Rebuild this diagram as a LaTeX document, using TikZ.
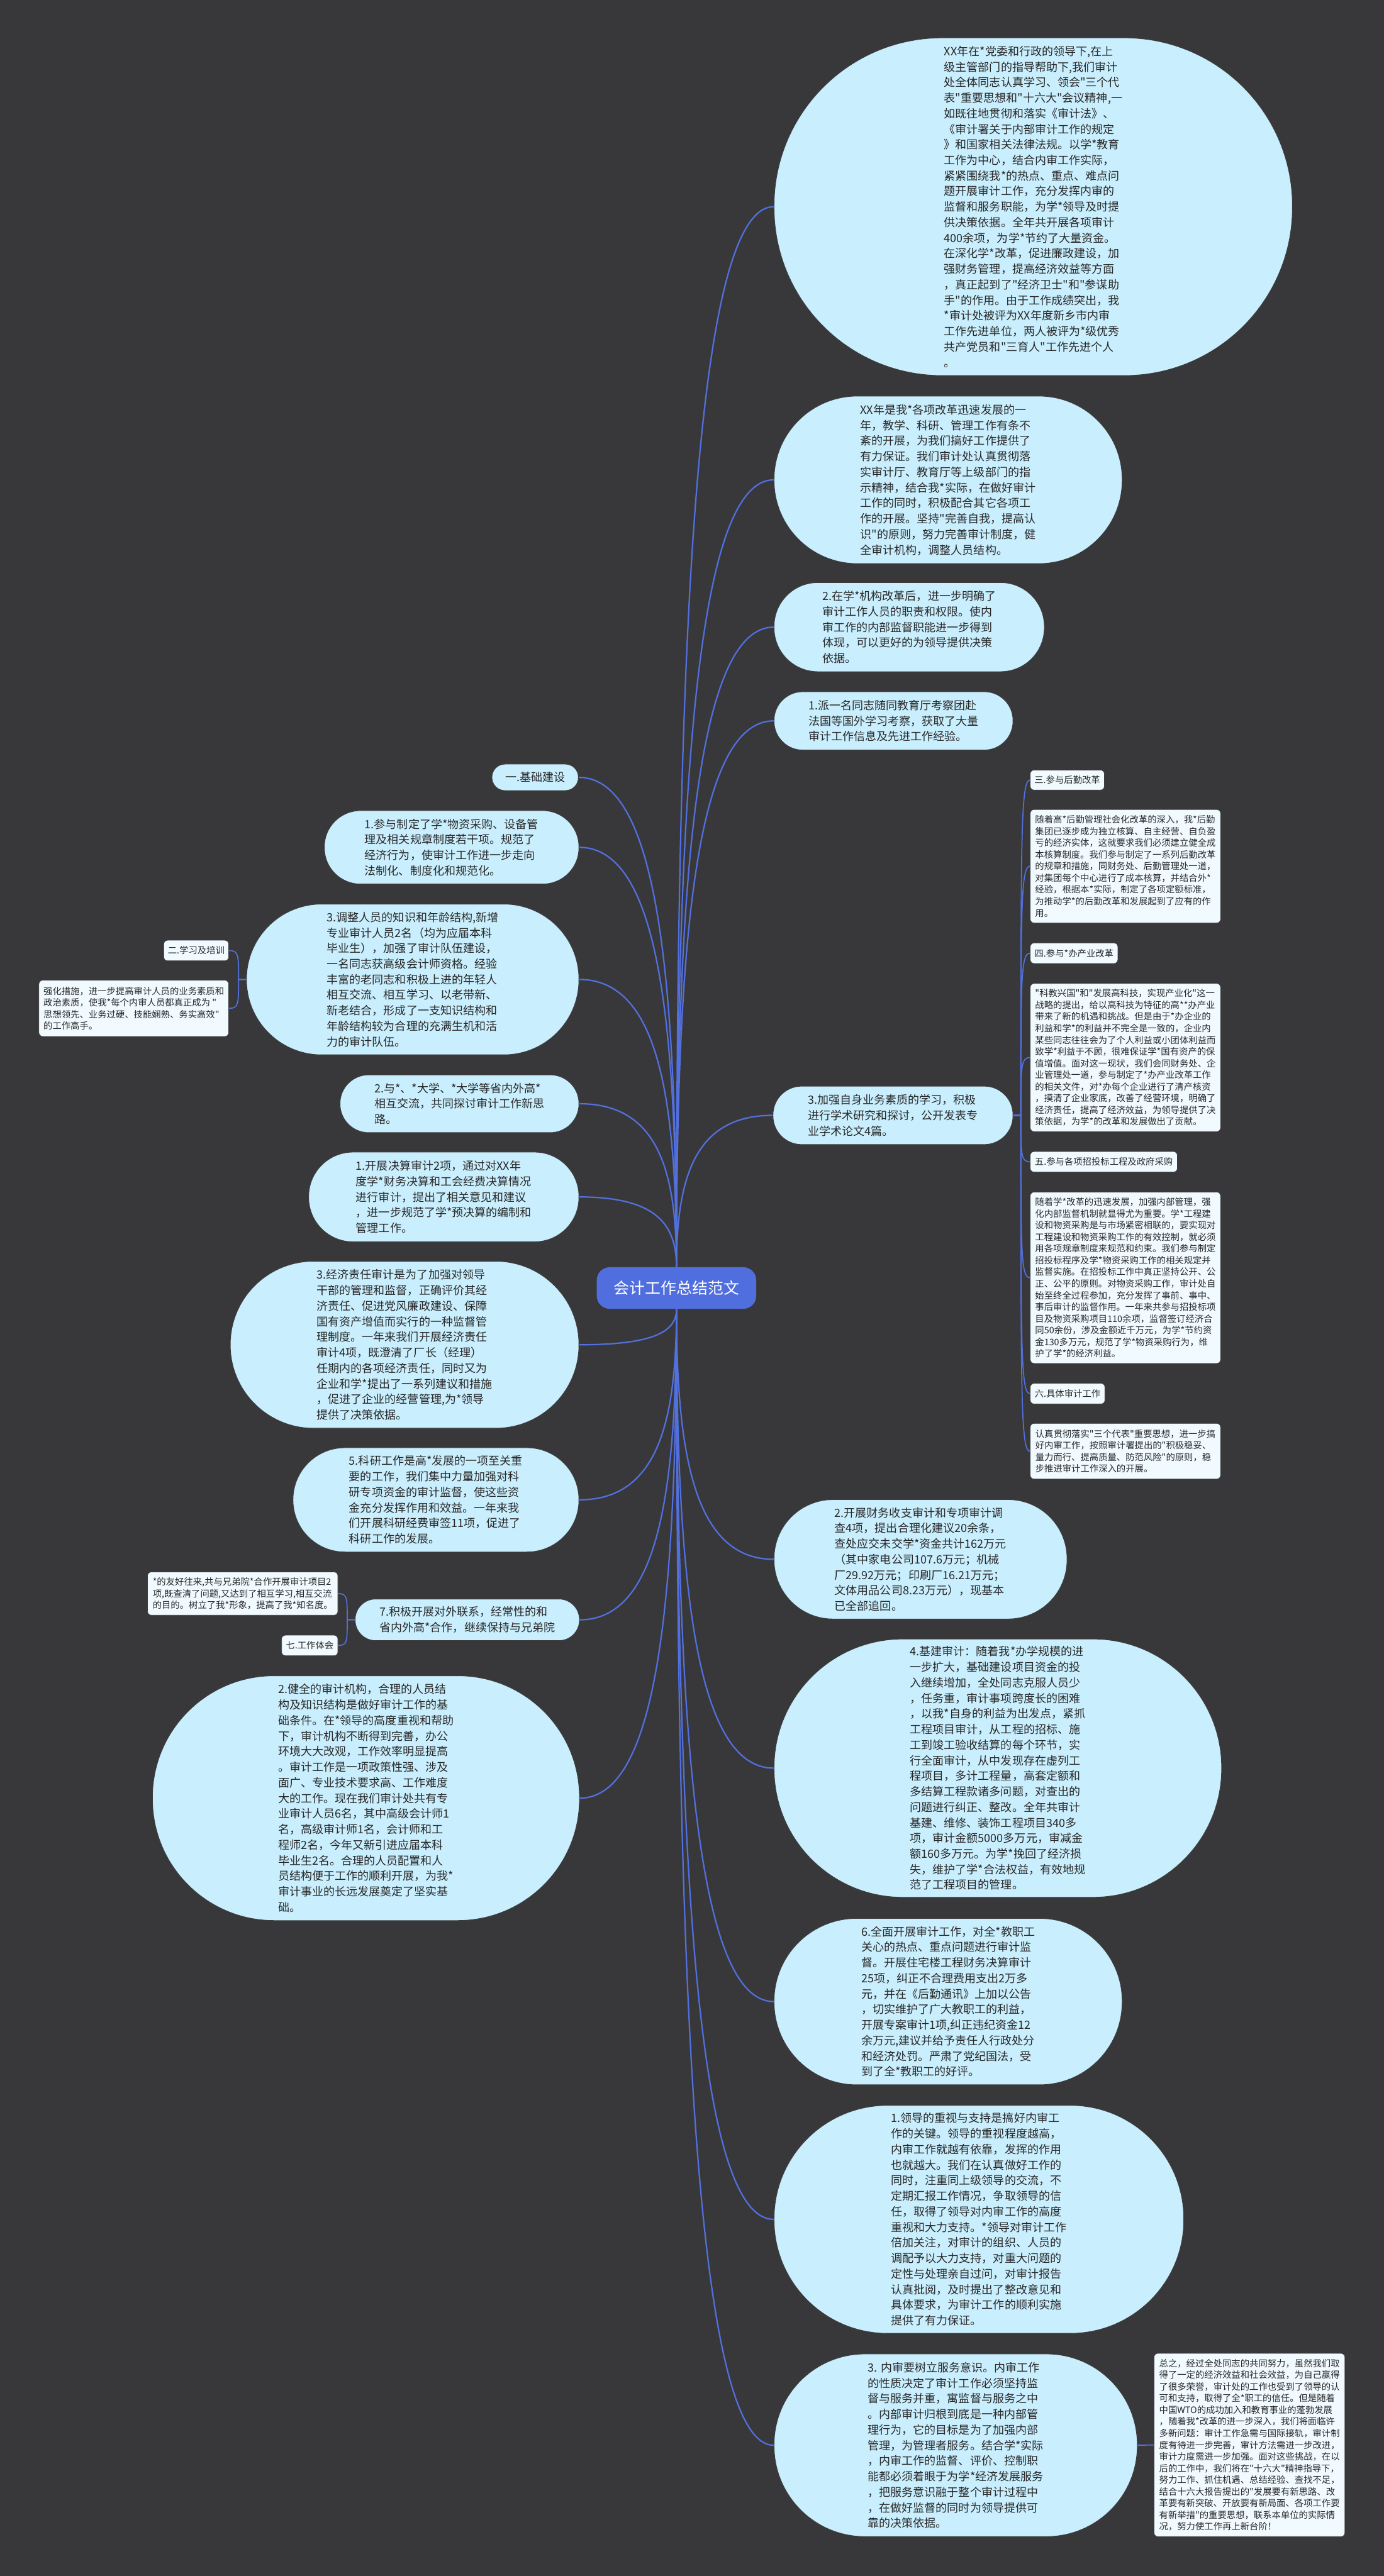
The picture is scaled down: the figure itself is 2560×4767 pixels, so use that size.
\documentclass[tikz,border=0pt]{standalone}
\usepackage{fontspec}
\newfontfamily\cjk{Noto Sans CJK SC}
\usetikzlibrary{calc}
\definecolor{bgc}{RGB}{56,56,58}
\definecolor{bubfill}{RGB}{201,238,253}
\definecolor{bubline}{RGB}{60,60,62}
\definecolor{boxfill}{RGB}{240,250,255}
\definecolor{centerc}{RGB}{80,110,221}
\definecolor{linkc}{RGB}{82,112,222}
\definecolor{txtc}{RGB}{40,40,40}
\pgfdeclarelayer{back}
\pgfdeclarelayer{links}
\pgfsetlayers{back,links,main}
\tikzset{
  bub/.style={draw=bubline, line width=1.2pt, fill=bubfill, text=txtc, font=\cjk\fontsize{21}{28.8}\selectfont, align=left, inner sep=0pt},
  sbox/.style={draw=bubline, line width=0.8pt, fill=boxfill, rounded corners=7pt, text=txtc, font=\cjk\fontsize{16.7}{21.6}\selectfont, align=left, inner sep=0pt},
  link/.style={draw=linkc, line width=2.6pt},
  slink/.style={draw=linkc, line width=2pt},
  conn/.style={to path={let \p1=(\tikztostart), \p2=(\tikztotarget) in .. controls (\x1,{\y1+0.6*(\y2-\y1)}) and ({\x1+0.2*(\x2-\x1)},\y2) .. (\tikztotarget)}},
  hconn/.style={to path={let \p1=(\tikztostart), \p2=(\tikztotarget) in .. controls (\x1,{\y1+0.85*(\y2-\y1)}) and (\x1,\y2) .. (\tikztotarget)}}
}
\begin{document}
\begin{tikzpicture}[x=1pt,y=-1pt]
\useasboundingbox (0,0) rectangle (2560,4767);
\begin{pgfonlayer}{back}
\fill[bgc] (0,0) rectangle (2560,4767);
\end{pgfonlayer}

% center
\node[fill=centerc, text=white, rounded corners=24pt, minimum width=295pt, minimum height=77pt, inner sep=0pt, font=\cjk\fontsize{29}{34}\selectfont] (c) at (1251.5,2383.5) {会计工作总结范文};

% right side
\node[bub, minimum width=959pt, minimum height=625pt, rounded corners=311pt] (r1) at (1911.5,382.5) {XX年在*党委和行政的领导下,在上\\级主管部门的指导帮助下,我们审计\\处全体同志认真学习、领会"三个代\\表"重要思想和"十六大"会议精神,一\\如既往地贯彻和落实《审计法》、\\《审计署关于内部审计工作的规定\\》和国家相关法律法规。以学*教育\\工作为中心，结合内审工作实际，\\紧紧围绕我*的热点、重点、难点问\\题开展审计工作，充分发挥内审的\\监督和服务职能，为学*领导及时提\\供决策依据。全年共开展各项审计\\400余项，为学*节约了大量资金。\\在深化学*改革，促进廉政建设，加\\强财务管理，提高经济效益等方面\\，真正起到了"经济卫士"和"参谋助\\手"的作用。由于工作成绩突出，我\\*审计处被评为XX年度新乡市内审\\工作先进单位，两人被评为*级优秀\\共产党员和"三育人"工作先进个人\\。};

\node[bub, minimum width=644pt, minimum height=310pt, rounded corners=154pt] (r2) at (1754,888) {XX年是我*各项改革迅速发展的一\\年，教学、科研、管理工作有条不\\紊的开展，为我们搞好工作提供了\\有力保证。我们审计处认真贯彻落\\实审计厅、教育厅等上级部门的指\\示精神，结合我*实际，在做好审计\\工作的同时，积极配合其它各项工\\作的开展。坚持"完善自我，提高认\\识"的原则，努力完善审计制度，健\\全审计机构，调整人员结构。};

\node[bub, minimum width=500pt, minimum height=165pt, rounded corners=81pt] (r3) at (1682,1160.5) {2.在学*机构改革后，进一步明确了\\审计工作人员的职责和权限。使内\\审工作的内部监督职能进一步得到\\体现，可以更好的为领导提供决策\\依据。};

\node[bub, minimum width=442pt, minimum height=108pt, rounded corners=53pt] (r4) at (1653,1334) {1.派一名同志随同教育厅考察团赴\\法国等国外学习考察，获取了大量\\审计工作信息及先进工作经验。};

\node[bub, minimum width=444pt, minimum height=108pt, rounded corners=53pt] (r5) at (1652,2064) {3.加强自身业务素质的学习，积极\\进行学术研究和探讨，公开发表专\\业学术论文4篇。};

\node[bub, minimum width=542pt, minimum height=221pt, rounded corners=109pt] (r6) at (1703,2885.5) {2.开展财务收支审计和专项审计调\\查4项，提出合理化建议20余条，\\查处应交未交学*资金共计162万元\\（其中家电公司107.6万元；机械\\厂29.92万元；印刷厂16.21万元；\\文体用品公司8.23万元），现基本\\已全部追回。};

\node[bub, minimum width=828pt, minimum height=478pt, rounded corners=238pt] (r7) at (1846,3272) {4.基建审计：随着我*办学规模的进\\一步扩大，基础建设项目资金的投\\入继续增加，全处同志克服人员少\\，任务重，审计事项跨度长的困难\\，以我*自身的利益为出发点，紧抓\\工程项目审计，从工程的招标、施\\工到竣工验收结算的每个环节，实\\行全面审计，从中发现存在虚列工\\程项目，多计工程量，高套定额和\\多结算工程款诸多问题，对查出的\\问题进行纠正、整改。全年共审计\\基建、维修、装饰工程项目340多\\项，审计金额5000多万元，审减金\\额160多万元。为学*挽回了经济损\\失，维护了学*合法权益，有效地规\\范了工程项目的管理。};

\node[bub, minimum width=644pt, minimum height=308pt, rounded corners=153pt] (r8) at (1754,3704) {6.全面开展审计工作，对全*教职工\\关心的热点、重点问题进行审计监\\督。开展住宅楼工程财务决算审计\\25项，纠正不合理费用支出2万多\\元，并在《后勤通讯》上加以公告\\，切实维护了广大教职工的利益，\\开展专案审计1项,纠正违纪资金12\\余万元,建议并给予责任人行政处分\\和经济处罚。严肃了党纪国法，受\\到了全*教职工的好评。};

\node[bub, minimum width=758pt, minimum height=422pt, rounded corners=210pt] (r9) at (1811,4107) {1.领导的重视与支持是搞好内审工\\作的关键。领导的重视程度越高，\\内审工作就越有依靠，发挥的作用\\也就越大。我们在认真做好工作的\\同时，注重同上级领导的交流，不\\定期汇报工作情况，争取领导的信\\任，取得了领导对内审工作的高度\\重视和大力支持。*领导对审计工作\\倍加关注，对审计的组织、人员的\\调配予以大力支持，对重大问题的\\定性与处理亲自过问，对审计报告\\认真批阅，及时提出了整改意见和\\具体要求，为审计工作的顺利实施\\提供了有力保证。};

\node[bub, minimum width=672pt, minimum height=338pt, rounded corners=168pt] (r10) at (1768,4525) {3. 内审要树立服务意识。内审工作\\的性质决定了审计工作必须坚持监\\督与服务并重，寓监督与服务之中\\。内部审计归根到底是一种内部管\\理行为，它的目标是为了加强内部\\管理，为管理者服务。结合学*实际\\，内审工作的监督、评价、控制职\\能都必须着眼于为学*经济发展服务\\，把服务意识融于整个审计过程中\\，在做好监督的同时为领导提供可\\靠的决策依据。};

\node[sbox, minimum width=353pt, minimum height=339pt] (z) at (2311.5,4524.5) {总之，经过全处同志的共同努力，虽然我们取\\得了一定的经济效益和社会效益，为自己赢得\\了很多荣誉，审计处的工作也受到了领导的认\\可和支持，取得了全*职工的信任。但是随着\\中国WTO的成功加入和教育事业的蓬勃发展\\，随着我*改革的进一步深入，我们将面临许\\多新问题：审计工作急需与国际接轨，审计制\\度有待进一步完善，审计方法需进一步改进，\\审计力度需进一步加强。面对这些挑战，在以\\后的工作中，我们将在"十六大"精神指导下，\\努力工作、抓住机遇、总结经验、查找不足，\\结合十六大报告提出的"发展要有新思路、改\\革要有新突破、开放要有新局面、各项工作要\\有新举措"的重要思想，联系本单位的实际情\\况，努力使工作再上新台阶！};

% right column boxes (children of r5)
\node[sbox, minimum width=137pt, minimum height=37pt] (b1) at (1974.5,1443.5) {三.参与后勤改革};
\node[sbox, minimum width=352pt, minimum height=210pt] (b2) at (2082,1603) {随着高*后勤管理社会化改革的深入，我*后勤\\集团已逐步成为独立核算、自主经营、自负盈\\亏的经济实体，这就要求我们必须建立健全成\\本核算制度。我们参与制定了一系列后勤改革\\的规章和措施，同财务处、后勤管理处一道，\\对集团每个中心进行了成本核算，并结合外*\\经验，根据本*实际，制定了各项定额标准，\\为推动学*的后勤改革和发展起到了应有的作\\用。};
\node[sbox, minimum width=162pt, minimum height=38pt] (b3) at (1987,1764) {四.参与*办产业改革};
\node[sbox, minimum width=352pt, minimum height=274pt] (b4) at (2082,1957) {"科教兴国"和"发展高科技，实现产业化"这一\\战略的提出，给以高科技为特征的高**办产业\\带来了新的机遇和挑战。但是由于*办企业的\\利益和学*的利益并不完全是一致的，企业内\\某些同志往往会为了个人利益或小团体利益而\\致学*利益于不顾，很难保证学*国有资产的保\\值增值。面对这一现状，我们会同财务处、企\\业管理处一道，参与制定了*办产业改革工作\\的相关文件，对*办每个企业进行了清产核资\\，摸清了企业家底，改善了经营环境，明确了\\经济责任，提高了经济效益，为领导提供了决\\策依据，为学*的改革和发展做出了贡献。};
\node[sbox, minimum width=272pt, minimum height=38pt] (b5) at (2042,2150) {五.参与各项招投标工程及政府采购};
\node[sbox, minimum width=352pt, minimum height=317pt] (b6) at (2082,2364.5) {随着学*改革的迅速发展，加强内部管理，强\\化内部监督机制就显得尤为重要。学*工程建\\设和物资采购是与市场紧密相联的，要实现对\\工程建设和物资采购工作的有效控制，就必须\\用各项规章制度来规范和约束。我们参与制定\\招投标程序及学*物资采购工作的相关规定并\\监督实施。在招投标工作中真正坚持公开、公\\正、公平的原则。对物资采购工作，审计处自\\始至终全过程参加，充分发挥了事前、事中、\\事后审计的监督作用。一年来共参与招投标项\\目及物资采购项目110余项，监督签订经济合\\同50余份，涉及金额近千万元，为学*节约资\\金130多万元，规范了学*物资采购行为，维\\护了学*的经济利益。};
\node[sbox, minimum width=138pt, minimum height=38pt] (b7) at (1975,2579) {六.具体审计工作};
\node[sbox, minimum width=352pt, minimum height=103pt] (b8) at (2082,2685.5) {认真贯彻落实"三个代表"重要思想，进一步搞\\好内审工作，按照审计署提出的"积极稳妥、\\量力而行、提高质量、防范风险"的原则，稳\\步推进审计工作深入的开展。};

% left side
\node[bub, minimum width=160pt, minimum height=49pt, rounded corners=24pt] (l0) at (990,1438.5) {一.基础建设};

\node[bub, minimum width=471pt, minimum height=136pt, rounded corners=67pt] (l1) at (835.5,1568) {1.参与制定了学*物资采购、设备管\\理及相关规章制度若干项。规范了\\经济行为，使审计工作进一步走向\\法制化、制度化和规范化。};

\node[bub, minimum width=615pt, minimum height=279pt, rounded corners=139pt] (l2) at (763.5,1812.5) {3.调整人员的知识和年龄结构,新增\\专业审计人员2名（均为应届本科\\毕业生），加强了审计队伍建设，\\一名同志获高级会计师资格。经验\\丰富的老同志和积极上进的年轻人\\相互交流、相互学习、以老带新、\\新老结合，形成了一支知识结构和\\年龄结构较为合理的充满生机和活\\力的审计队伍。};

\node[sbox, minimum width=120pt, minimum height=38pt] (s1) at (363,1759) {二.学习及培训};
\node[sbox, minimum width=351pt, minimum height=104pt] (s2) at (247.5,1866) {强化措施，进一步提高审计人员的业务素质和\\政治素质，使我*每个内审人员都真正成为 "\\思想领先、业务过硬、技能娴熟、务实高效"\\的工作高手。};

\node[bub, minimum width=442pt, minimum height=107pt, rounded corners=53pt] (l3) at (850,2042.5) {2.与*、*大学、*大学等省内外高*\\相互交流，共同探讨审计工作新思\\路。};

\node[bub, minimum width=500pt, minimum height=166pt, rounded corners=82pt] (l4) at (821,2215) {1.开展决算审计2项，通过对XX年\\度学*财务决算和工会经费决算情况\\进行审计，提出了相关意见和建议\\，进一步规范了学*预决算的编制和\\管理工作。};

\node[bub, minimum width=645pt, minimum height=309pt, rounded corners=154pt] (l5) at (748.5,2488.5) {3.经济责任审计是为了加强对领导\\干部的管理和监督，正确评价其经\\济责任、促进党风廉政建设、保障\\国有资产增值而实行的一种监督管\\理制度。一年来我们开展经济责任\\审计4项，既澄清了厂长（经理）\\任期内的各项经济责任，同时又为\\企业和学*提出了一系列建议和措施\\，促进了企业的经营管理,为*领导\\提供了决策依据。};

\node[bub, minimum width=529pt, minimum height=193pt, rounded corners=96pt] (l6) at (806.5,2775.5) {5.科研工作是高*发展的一项至关重\\要的工作，我们集中力量加强对科\\研专项资金的审计监督，使这些资\\金充分发挥作用和效益。一年来我\\们开展科研经费审签11项，促进了\\科研工作的发展。};

\node[bub, minimum width=415pt, minimum height=77pt, rounded corners=38pt] (l7) at (864.5,2997.5) {7.积极开展对外联系，经常性的和\\省内外高*合作，继续保持与兄弟院};

\node[sbox, minimum width=352pt, minimum height=80pt] (s3) at (449,2949) {*的友好往来,共与兄弟院*合作开展审计项目2\\项,既查清了问题,又达到了相互学习,相互交流\\的目的。树立了我*形象，提高了我*知名度。};
\node[sbox, minimum width=104pt, minimum height=38pt] (s4) at (573,3045) {七.工作体会};

\node[bub, minimum width=790pt, minimum height=453pt, rounded corners=225pt] (l8) at (677,3327.5) {2.健全的审计机构，合理的人员结\\构及知识结构是做好审计工作的基\\础条件。在*领导的高度重视和帮助\\下，审计机构不断得到完善，办公\\环境大大改观，工作效率明显提高\\。审计工作是一项政策性强、涉及\\面广、专业技术要求高、工作难度\\大的工作。现在我们审计处共有专\\业审计人员6名，其中高级会计师1\\名，高级审计师1名，会计师和工\\程师2名，今年又新引进应届本科\\毕业生2名。合理的人员配置和人\\员结构便于工作的顺利开展，为我*\\审计事业的长远发展奠定了坚实基\\础。};

% connectors
\begin{pgfonlayer}{links}
\foreach \k in {r1,r2,r3,r4,r5} \draw[link] (c.north) to[conn] (\k.west);
\foreach \k in {l0,l1,l2,l3,l4} \draw[link] (c.north) to[conn] (\k.east);
\foreach \k in {r6,r7,r8,r9,r10} \draw[link] (c.south) to[conn] (\k.west);
\foreach \k in {l5,l6,l7,l8} \draw[link] (c.south) to[conn] (\k.east);
\foreach \k in {b1,b2,b3,b4,b5,b6,b7,b8} \draw[slink] (r5.east) -- ++(14,0) to[hconn] (\k.west);
\foreach \k in {s1,s2} \draw[slink] (l2.west) -- ++(-14,0) to[hconn] (\k.east);
\foreach \k in {s3,s4} \draw[slink] (l7.west) -- ++(-14,0) to[hconn] (\k.east);
\draw[slink] (r10.east) -- (z.west);
\end{pgfonlayer}
\end{tikzpicture}
\end{document}
